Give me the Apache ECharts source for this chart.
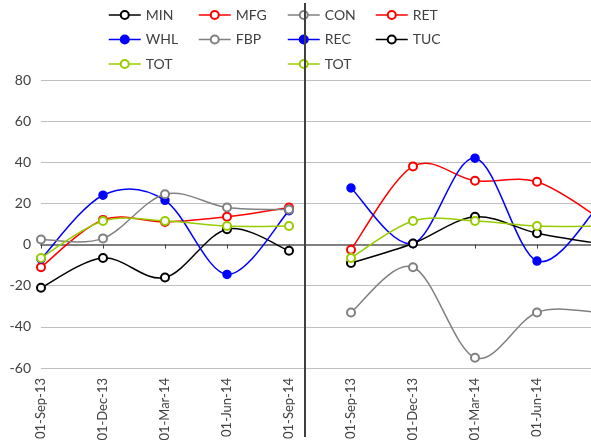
<!DOCTYPE html>
<html>
<head>
<meta charset="utf-8">
<script src="https://cdn.jsdelivr.net/npm/echarts@6/dist/echarts.min.js"></script>
<style>
html,body{margin:0;padding:0;background:#fff;overflow:hidden;}
#chart{width:612px;height:445px;}
</style>
</head>
<body>
<div id="chart"></div>
<script>
// Categories (left panel + right panel)
var categories = ['01-Sep-13','01-Dec-13','01-Mar-14','01-Jun-14','01-Sep-14',
                  '01-Sep-13','01-Dec-13','01-Mar-14','01-Jun-14','01-Sep-14'];
var yTicks = [-60, -40, -20, 0, 20, 40, 60, 80];

// Left panel series
var MIN   = [-21, -6.5, -16, 7.5, -3];
var MFG   = [-11, 12, 11, 13.5, 18];
var WHL   = [-7, 24, 21.5, -14.5, 16.5];
var FBP   = [2.5, 3, 24.5, 18, 17];
var TOT_L = [-6.5, 11.5, 11.5, 9, 9];

// Right panel series
var CON   = [-33, -11, -55, -33, -33];
var RET   = [-2.5, 38, 31, 30.5, 13];
var REC   = [27.5, 0.5, 42, -8, 19];
var TUC   = [-9, 0.5, 13.5, 5.5, 0.5];
var TOT_R = [-6.5, 11.5, 11.5, 9, 9];

var nulls = [null, null, null, null, null];
function left(a){ return a.concat(nulls); }
function right(a){ return nulls.concat(a); }

var FONT = 'Lato';
var TXT = '#404040';

// Smooth curve (Excel-like Catmull-Rom) drawn through the axis scales
function curve(vals, color){
  var pts = [];
  for (var i = 0; i < vals.length; i++) if (vals[i] != null) pts.push([i, vals[i]]);
  return {
    type: 'custom', silent: true, animation: false,
    xAxisIndex: 0, yAxisIndex: 0,
    data: pts,
    renderItem: function(params, api){
      if (params.dataIndex !== 0) return;
      var P = pts.map(function(p){ return api.coord(p); });
      var ch = [];
      for (var k = 0; k < P.length - 1; k++){
        var p0 = P[k-1] || P[k], p1 = P[k], p2 = P[k+1], p3 = P[k+2] || P[k+1];
        ch.push({
          type: 'bezierCurve',
          shape: {
            x1: p1[0], y1: p1[1],
            cpx1: p1[0] + (p2[0]-p0[0])/6, cpy1: p1[1] + (p2[1]-p0[1])/6,
            cpx2: p2[0] - (p3[0]-p1[0])/6, cpy2: p2[1] - (p3[1]-p1[1])/6,
            x2: p2[0], y2: p2[1]
          },
          style: {stroke: color, lineWidth: 1.5, fill: null}
        });
      }
      return {type: 'group', children: ch};
    }
  };
}

function mk(name, data, color, filled){
  return {
    name: name, type: 'line', data: data,
    xAxisIndex: 0, yAxisIndex: 0,
    symbol: filled ? 'circle' : 'emptyCircle',
    symbolSize: 8,
    showAllSymbol: true,
    lineStyle: {color: color, width: 1.5, opacity: 0},
    itemStyle: {color: color, borderColor: color, borderWidth: 1.5},
    emphasis: {disabled: true},
    animation: false
  };
}

function lg(left, names){
  return {
    left: left, top: 8, orient: 'vertical', padding: 0,
    itemWidth: 32, itemHeight: 10, itemGap: 10.5,
    data: names,
    selectedMode: false,
    lineStyle: {opacity: 1, width: 1.5},
    textStyle: {fontFamily: FONT, fontSize: 14, color: TXT, lineHeight: 14}
  };
}

var defs = [
  ['MIN', left(MIN), '#000000', false],
  ['MFG', left(MFG), '#ff0000', false],
  ['WHL', left(WHL), '#0000ff', true],
  ['FBP', left(FBP), '#808080', false],
  ['TOT', left(TOT_L), '#99cc00', false],
  ['CON', right(CON), '#808080', false],
  ['RET', right(RET), '#ff0000', false],
  ['REC', right(REC), '#0000ff', true],
  ['TUC', right(TUC), '#000000', false],
  ['TOT', right(TOT_R), '#99cc00', false]
];
var series = [];
defs.forEach(function(d){
  series.push(curve(d[1], d[2]));
  series.push(mk(d[0], d[1], d[2], d[3]));
});

var chart = echarts.init(document.getElementById('chart'), null, {renderer: 'canvas'});
chart.setOption({
  animation: false,
  backgroundColor: '#fff',
  textStyle: {fontFamily: FONT},
  legend: [
    lg(108, ['MIN', 'WHL', 'TOT']),
    lg(198, ['MFG', 'FBP']),
    lg(287, ['CON', 'REC', 'TOT']),
    lg(375, ['RET', 'TUC'])
  ],
  grid: {left: 41, top: 80, width: 558, height: 288, containLabel: false},
  xAxis: [
    {
      type: 'category', data: categories, boundaryGap: false,
      axisLine: {show: false, onZero: false}, axisTick: {show: false},
      splitLine: {show: false},
      axisLabel: {rotate: 90, interval: 0, margin: 10, fontFamily: FONT, fontSize: 13, color: TXT}
    },
    {
      type: 'category', data: categories, boundaryGap: false, position: 'bottom',
      axisLine: {show: true, onZero: true, lineStyle: {color: '#808080', width: 2}},
      axisTick: {show: true, interval: 0, length: 4, lineStyle: {color: '#404040', width: 1}},
      axisLabel: {show: false}, splitLine: {show: false}
    }
  ],
  yAxis: {
    type: 'value', min: yTicks[0], max: yTicks[yTicks.length-1], interval: 20,
    axisLine: {show: false}, axisTick: {show: false},
    splitLine: {show: true, lineStyle: {color: '#c0c0c0', width: 1}},
    axisLabel: {margin: 10, fontFamily: FONT, fontSize: 14, color: TXT}
  },
  series: series,
  graphic: [{
    type: 'line', z: 100,
    shape: {x1: 305, y1: 3, x2: 305, y2: 437},
    style: {stroke: '#404040', lineWidth: 2}
  }]
});
</script>
</body>
</html>
